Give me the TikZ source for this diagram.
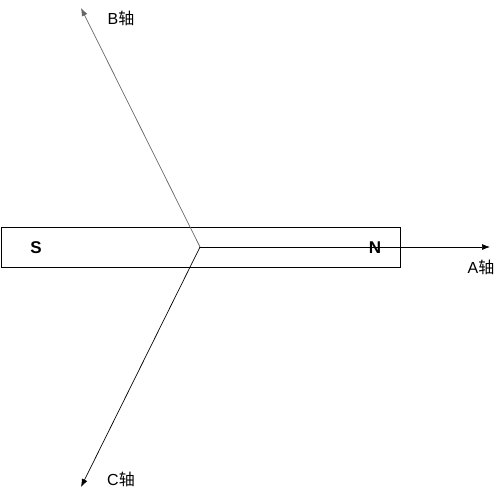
\documentclass[tikz,border=0pt]{standalone}
\usepackage{fontspec}
\setmainfont{Liberation Sans}
\newfontfamily\cjk{Noto Sans CJK SC}
\usepackage{tikz}
\usetikzlibrary{arrows.meta}

\begin{document}
\begin{tikzpicture}[x=1pt,y=-1pt,every node/.style={font=\fontsize{16}{18}\selectfont,inner sep=0pt},
    pole/.style={font=\fontsize{17}{19}\selectfont\bfseries},
    axis/.style={-{Latex[length=8pt,width=6pt]},line width=0.7pt}]
      \useasboundingbox (0,0) rectangle (502,496);
      \node[draw,line width=0.8pt,minimum width=399pt,minimum height=40pt,anchor=north west] (magnet) at (1,227) {};
      \node[pole] (S) at (36,248) {S};
      \node[pole] (N) at (375,248) {N};
      \coordinate (O) at (200,247);
      \coordinate (A) at (490,247);
      \coordinate (B) at (81,8);
      \coordinate (C) at (81,487);
      \draw[axis] (O) -- (A);
      \draw[axis,draw=gray!80!black] (O) -- (B);
      \draw[axis] (O) -- (C);
      \node (Alabel) at (481,267) {A{\cjk 轴}};
      \node (Blabel) at (121,18) {B{\cjk 轴}};
      \node (Clabel) at (121,479) {C{\cjk 轴}};
\end{tikzpicture}
\end{document}
